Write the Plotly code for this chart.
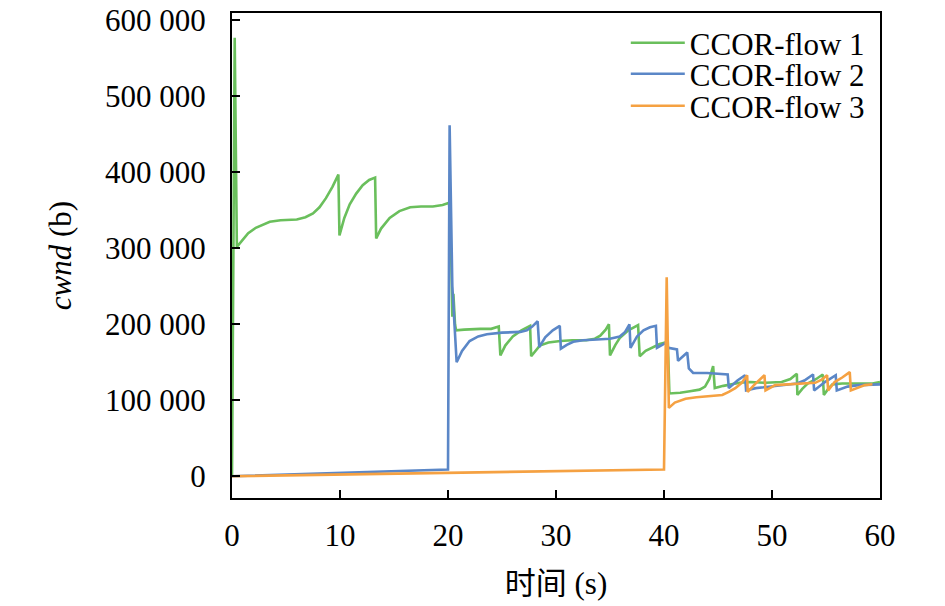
import plotly.graph_objects as go

# ---- data ----
flow1_t = [0, 0.25, 0.45, 1.0, 1.5, 2.2, 3.0, 3.5, 4.5, 6.0, 6.8, 7.5, 8.1, 8.7, 9.3, 9.85,
           9.95, 10.4, 10.9, 11.5, 12.1, 12.7, 13.25, 13.35, 13.8, 14.6, 15.5, 16.5, 17.5,
           18.6, 19.5, 20.1, 20.3, 20.4, 20.5, 20.65, 20.75, 21.5, 23.0, 24.0, 24.7, 24.85,
           25.3, 26.0, 26.8, 27.6, 27.7, 28.5, 29.3, 30.4, 31.5, 32.8, 33.6, 34.1, 34.6, 34.9,
           35.0, 35.5, 35.9, 36.7, 37.6, 37.75, 38.3, 39.0, 39.6, 40.1, 40.35, 40.5, 41.5,
           42.4, 43.3, 43.8, 44.2, 44.55, 44.7, 45.5, 46.3, 47.0, 48.0, 49.4, 50.9, 51.7,
           52.3, 52.35, 52.8, 53.3, 54.1, 54.7, 54.8, 55.2, 55.6, 56.5, 58.0, 59.3, 60.0]
flow1_cwnd = [0, 577000, 302000, 312000, 320000, 327000, 332000, 335000, 337000, 338000,
              341000, 346000, 354000, 366000, 381000, 397000, 317000, 340000, 358000, 372000,
              383000, 390000, 393000, 313000, 326000, 340000, 349000, 354000, 355000, 355000,
              357000, 360000, 290000, 210000, 240000, 200000, 192000, 193000, 194000, 194000,
              197000, 159000, 172000, 184000, 192000, 198000, 158000, 172000, 176000, 178000,
              179000, 179000, 181000, 185000, 193000, 200000, 159000, 173000, 182000, 192000,
              199000, 158000, 165000, 170000, 174000, 176000, 176000, 109000, 110000, 112000,
              114000, 118000, 128000, 145000, 116000, 119000, 121000, 123000, 124000, 123000,
              124000, 128000, 135000, 107000, 115000, 122000, 128000, 134000, 107000, 115000,
              121000, 122000, 122000, 122000, 124000]

flow2_t = [0, 20.0, 20.15, 20.4, 20.8, 21.3, 22.0, 22.8, 23.6, 25.0, 26.7, 27.3, 27.8, 28.3,
           28.45, 29.0, 29.7, 30.35, 30.45, 31.0, 31.6, 32.5, 33.8, 35.0, 35.9, 36.4, 36.8,
           36.9, 37.5, 38.1, 38.7, 39.25, 39.35, 39.8, 40.2, 40.4, 41.2, 41.3, 41.8, 42.15,
           42.3, 42.7, 44.0, 45.0, 45.9, 46.0, 46.8, 47.5, 47.6, 48.5, 50.0, 51.3, 52.3, 53.0,
           53.8, 53.9, 54.9, 55.9, 56.0, 57.0, 58.0, 60.0]
flow2_cwnd = [0, 9000, 462000, 250000, 150000, 165000, 178000, 184000, 187000, 189000, 190000,
              192000, 197000, 204000, 170000, 183000, 192000, 198000, 168000, 173000, 177000,
              179000, 180000, 181000, 184000, 190000, 200000, 169000, 184000, 192000, 196000,
              198000, 169000, 173000, 176000, 169000, 167000, 152000, 159000, 163000, 142000,
              136000, 136000, 135000, 134000, 116000, 126000, 133000, 113000, 116000, 118000,
              120000, 122000, 126000, 134000, 113000, 124000, 133000, 113000, 118000, 120000,
              121000]

flow3_t = [0, 40.0, 40.25, 40.45, 41.0, 42.0, 43.0, 44.5, 45.4, 46.0, 46.6, 47.2, 47.7, 47.75,
           48.4, 49.3, 49.4, 50.3, 51.5, 52.4, 54.0, 54.6, 55.1, 55.2, 55.8, 56.5, 57.2, 57.3,
           58.0, 58.6, 59.3]
flow3_cwnd = [0, 9000, 262000, 90000, 97000, 102000, 104000, 106000, 107000, 111000, 116000,
              123000, 133000, 111000, 121000, 133000, 113000, 120000, 121000, 122000, 123000,
              127000, 133000, 113000, 124000, 130000, 137000, 113000, 117000, 120000, 121000]

series_names = ["CCOR-flow 1", "CCOR-flow 2", "CCOR-flow 3"]
series_colors = ["#6abf5c", "#5b87c7", "#f5a142"]
x_ticks = [0, 10, 20, 30, 40, 50, 60]
y_ticks = [0, 100000, 200000, 300000, 400000, 500000, 600000]

FONT = "Liberation Serif, Times New Roman, Noto Sans CJK SC, serif"
FS = 31

legend_ids = ["legend", "legend2", "legend3"]
legend_rows_y = [0.938, 0.874, 0.808]

fig = go.Figure()
for name, color, xs, ys, lg in zip(series_names, series_colors,
                                   [flow1_t, flow2_t, flow3_t],
                                   [flow1_cwnd, flow2_cwnd, flow3_cwnd], legend_ids):
    fig.add_trace(go.Scatter(x=xs, y=ys, mode="lines", name=name, legend=lg,
                             showlegend=True, line=dict(color=color, width=2.6)))

axis_common = dict(showline=True, linecolor="black", linewidth=2, mirror=True,
                   ticks="inside", ticklen=8, tickwidth=2, tickcolor="black",
                   showgrid=False, zeroline=False, automargin=False,
                   ticklabeloverflow="allow",
                   tickfont=dict(family=FONT, size=FS, color="black"))

legend_style = dict(x=0.6077, xanchor="left", yanchor="middle", itemwidth=54,
                    bgcolor="rgba(0,0,0,0)", font=dict(family=FONT, size=FS))

fig.update_layout(
    width=945, height=606,
    margin=dict(l=232, r=65, t=13, b=108),
    paper_bgcolor="white", plot_bgcolor="white",
    separators=". ",
    showlegend=True,
    font=dict(family=FONT, size=FS, color="black"),
    xaxis=dict(range=[0, 60], tickvals=x_ticks, ticklabelstandoff=9,
               title=dict(text="时间 (s)", font=dict(family=FONT, size=FS), standoff=20),
               **axis_common),
    yaxis=dict(range=[-28600, 609700], tickvals=y_ticks, tickformat=",d",
               ticklabelstandoff=18,
               title=dict(text="<i>cwnd</i> (b)", font=dict(family=FONT, size=FS), standoff=24),
               **axis_common),
    legend=dict(y=legend_rows_y[0], **legend_style),
    legend2=dict(y=legend_rows_y[1], **legend_style),
    legend3=dict(y=legend_rows_y[2], **legend_style),
)

# drop the browser's default 8px body margin so the figure fills the window exactly
fig.write_html("out.html", config={"displayModeBar": False},
               post_script="document.body.style.margin='0px';")
